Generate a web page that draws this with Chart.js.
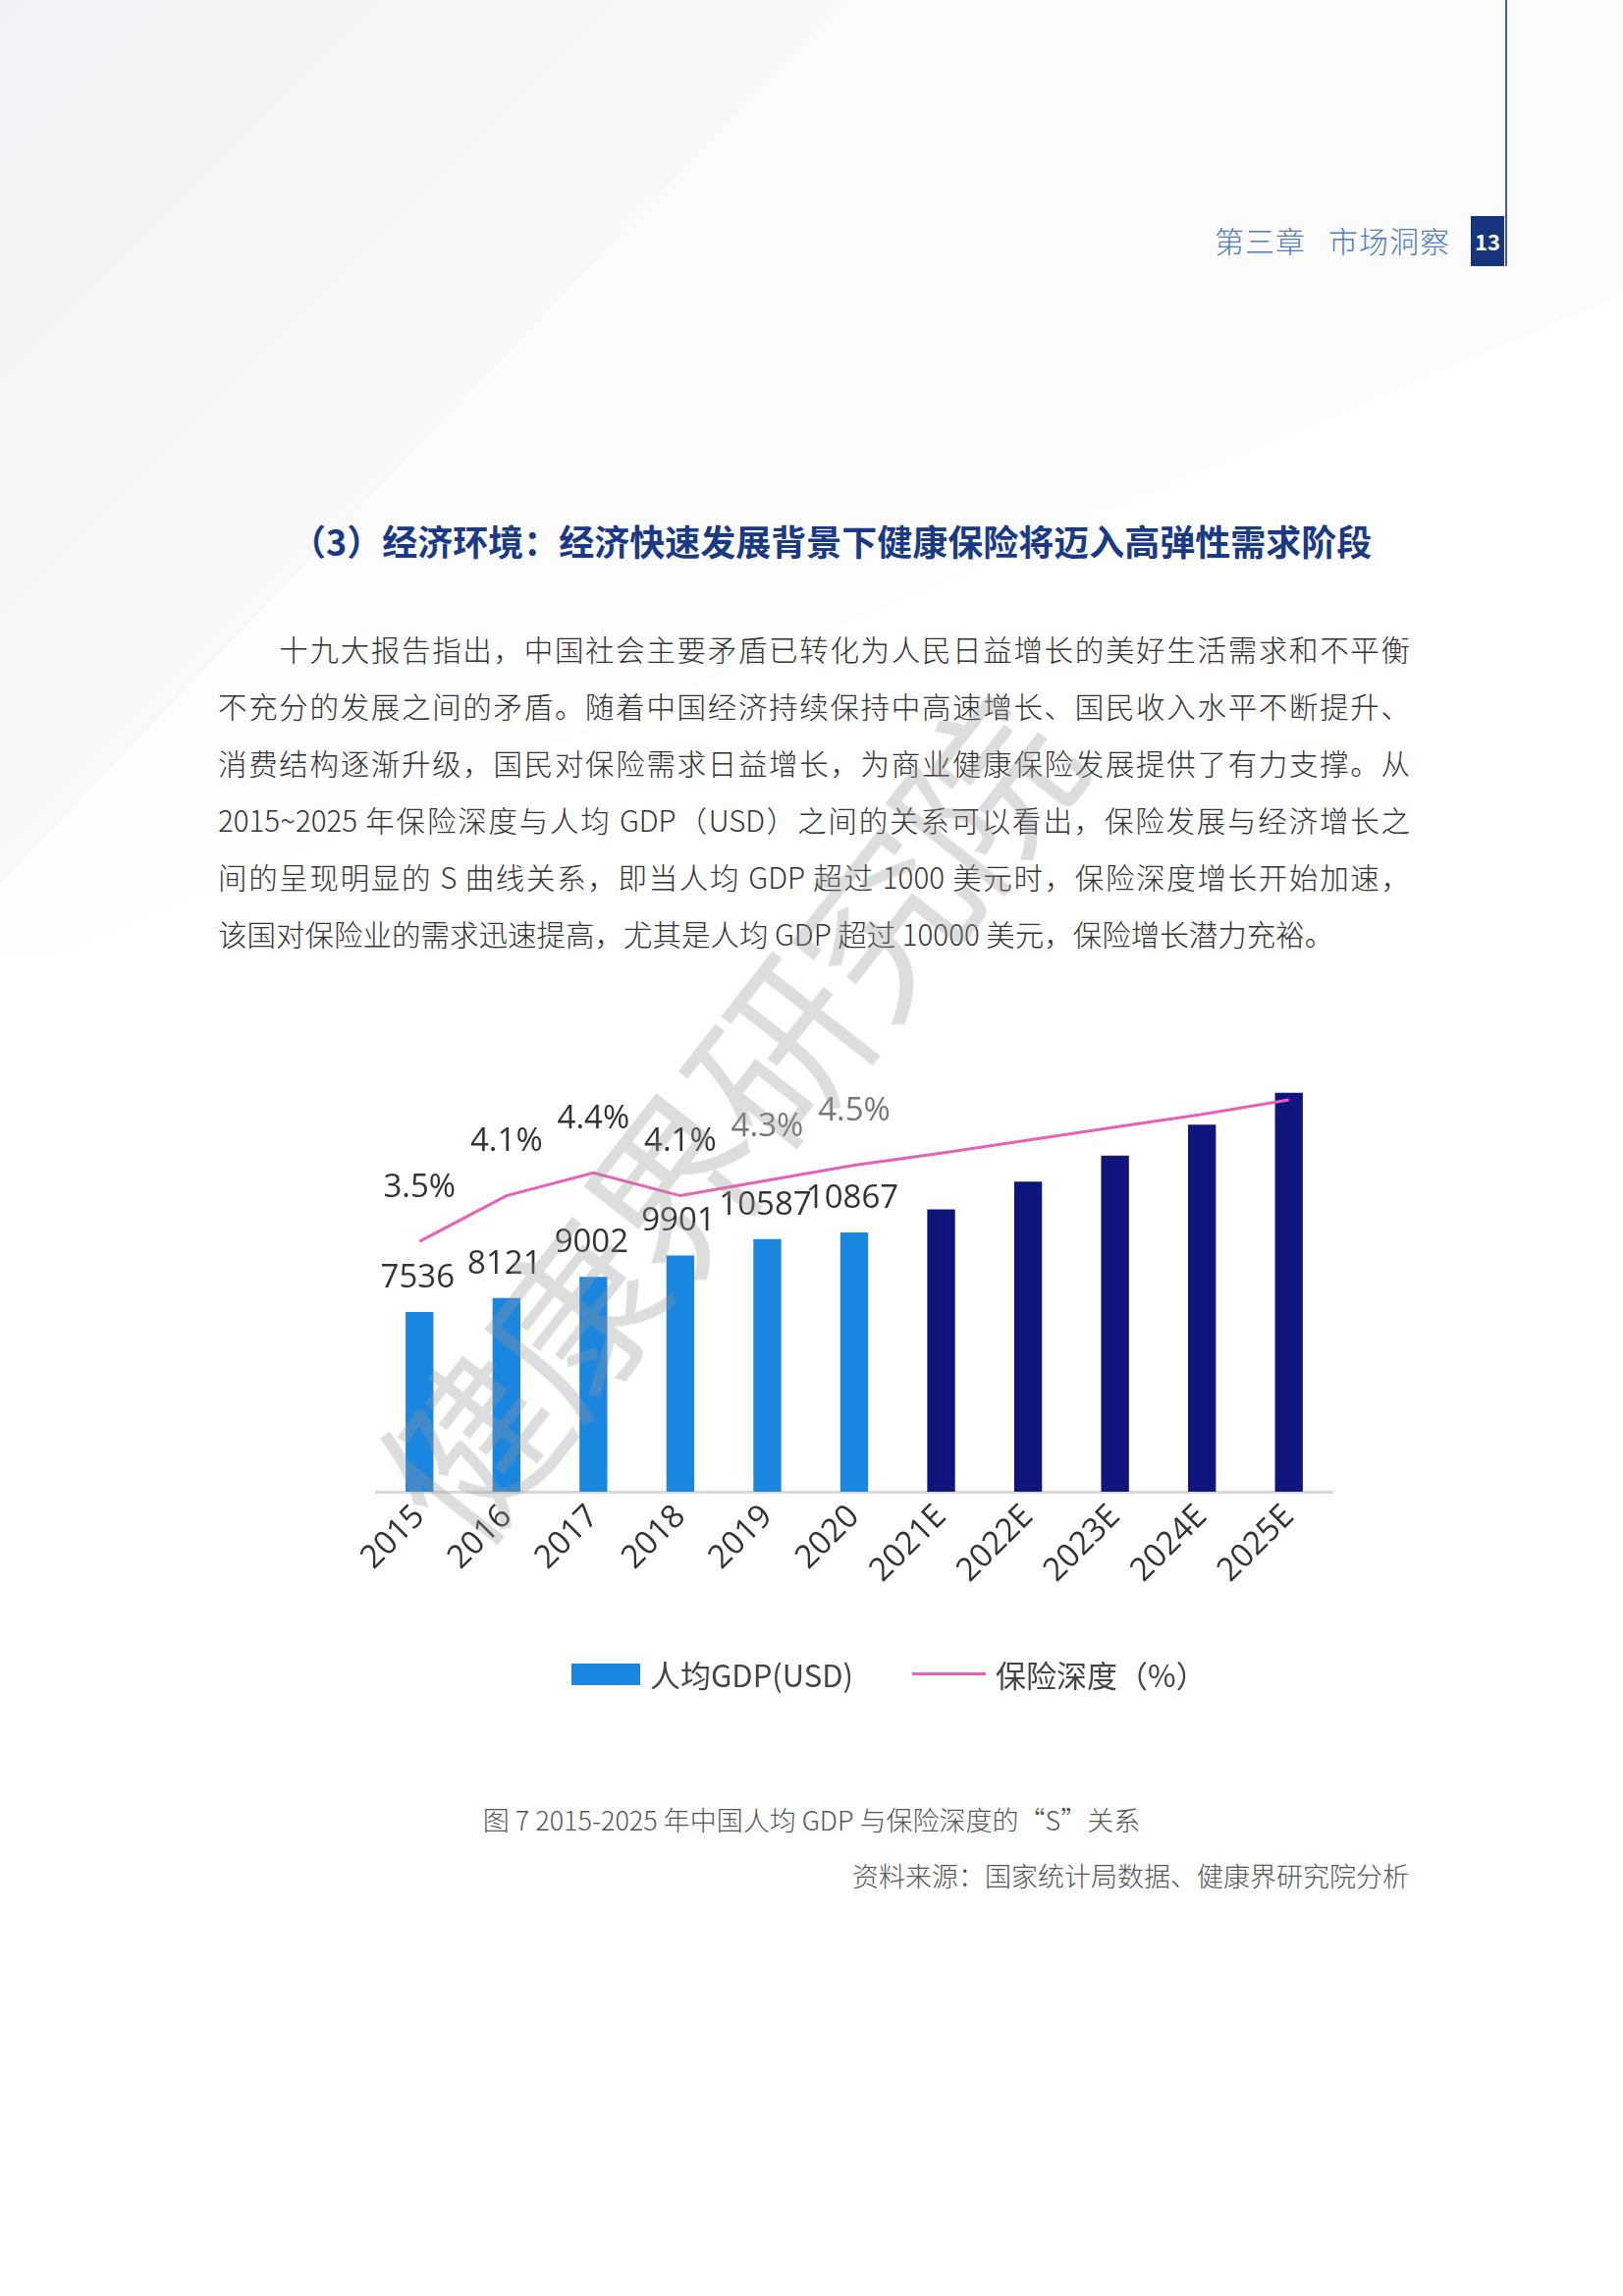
<!DOCTYPE html>
<html><head><meta charset="utf-8">
<script src="https://cdn.jsdelivr.net/npm/chart.js@4/dist/chart.umd.min.js"></script>
<style>
html,body{margin:0;padding:0;background:#fff;}
body{width:1653px;height:2338px;position:relative;overflow:hidden;font-family:"Noto Sans CJK SC","Noto Sans",sans-serif;}
.bgshape{position:absolute;left:0;top:0;width:1653px;height:1100px;background:linear-gradient(135deg,#f1f2f5 0%,#fafafb 40%,#fff 60%);clip-path:polygon(0 0,860px 0,0 900px);}
.bgshape2{position:absolute;left:0;top:0;width:1653px;height:1100px;background:linear-gradient(180deg,#f7f7f9,#fff);clip-path:polygon(0 0,0 1000px,1653px 300px,1653px 0);opacity:.6}
#vline{position:absolute;left:1533px;top:0;width:2px;height:271px;background:#3a5fa8;}
#hdr{position:absolute;right:176px;top:222px;font-size:30px;color:#4f7cc0;font-weight:300;letter-spacing:1px;white-space:pre;}
#pg{position:absolute;left:1498px;top:220px;width:34px;height:51px;background:#17357f;color:#fff;font-size:22px;font-weight:700;text-align:center;line-height:51px;}
#title{position:absolute;left:296px;top:524px;font-size:36px;font-weight:700;color:#1b3a86;white-space:nowrap;}
#para{position:absolute;left:222px;top:631px;width:1214px;font-size:29.5px;line-height:58px;color:#333;font-weight:300;text-align:justify;}
#para div{white-space:nowrap;text-align-last:justify;}
#cv{position:absolute;left:355px;top:1040px;width:1030px;height:710px;}
#legend{position:absolute;top:1682px;left:582px;font-size:31px;color:#444;display:flex;align-items:center;white-space:nowrap;}
.sw{display:inline-block;width:70px;height:22px;background:#1a86e0;margin-right:10px;}
.ln{display:inline-block;width:75px;height:3px;background:#e860b8;margin:0 10px 0 60px;}
#cap{position:absolute;left:0;width:1653px;top:1833px;text-align:center;font-size:27px;color:#555;font-weight:300;}
#src{position:absolute;right:218px;top:1890px;font-size:27px;color:#555;font-weight:300;}
#wm{position:absolute;left:260px;top:820px;font-size:175px;color:rgba(150,150,150,0.32);transform-origin:0 0;transform:translate(60px,640px) rotate(-52deg);white-space:nowrap;pointer-events:none;letter-spacing:-5px;}
</style></head><body>
<div class="bgshape2"></div><div class="bgshape"></div>
<div id="vline"></div>
<div id="hdr">第三章   市场洞察</div>
<div id="pg">13</div>
<div id="title">（3）经济环境：经济快速发展背景下健康保险将迈入高弹性需求阶段</div>
<div id="para">
<div>　　十九大报告指出，中国社会主要矛盾已转化为人民日益增长的美好生活需求和不平衡</div>
<div>不充分的发展之间的矛盾。随着中国经济持续保持中高速增长、国民收入水平不断提升、</div>
<div>消费结构逐渐升级，国民对保险需求日益增长，为商业健康保险发展提供了有力支撑。从</div>
<div>2015~2025 年保险深度与人均 GDP（USD）之间的关系可以看出，保险发展与经济增长之</div>
<div>间的呈现明显的 S 曲线关系，即当人均 GDP 超过 1000 美元时，保险深度增长开始加速，</div>
<div style="text-align-last:left">该国对保险业的需求迅速提高，尤其是人均 GDP 超过 10000 美元，保险增长潜力充裕。</div>
</div>
<canvas id="cv" width="1030" height="710"></canvas>
<div id="legend"><span class="sw"></span>人均GDP(USD)<span class="ln"></span>保险深度（%）</div>
<div id="wm">健康界研究院</div>
<div id="cap">图 7 2015-2025 年中国人均 GDP 与保险深度的“S”关系</div>
<div id="src">资料来源：国家统计局数据、健康界研究院分析</div>
<script>
const categories=["2015","2016","2017","2018","2019","2020","2021E","2022E","2023E","2024E","2025E"];
const gdp=[7536,8121,9002,9901,10587,10867,11830,13000,14090,15380,16720];
const depth=[3.5,4.1,4.4,4.1,4.3,4.5,4.66,4.83,5.0,5.17,5.36];
const gdpLabels=["7536","8121","9002","9901","10587","10867","","","","",""];
const depthLabels=["3.5%","4.1%","4.4%","4.1%","4.3%","4.5%","","","","",""];
const barColors=categories.map(c=>c.endsWith("E")?"#10157e":"#1a86e0");

const labelPlugin={id:"lbl",afterDatasetsDraw(chart){
  const ctx=chart.ctx;ctx.save();
  ctx.font='33px "Open Sans","Noto Sans",sans-serif';ctx.textAlign="center";ctx.textBaseline="bottom";
  const bm=chart.getDatasetMeta(1), lm=chart.getDatasetMeta(0);
  bm.data.forEach((b,i)=>{if(!gdpLabels[i])return;ctx.fillStyle="#333";ctx.fillText(gdpLabels[i],b.x-2,b.y-18);});
  lm.data.forEach((p,i)=>{if(!depthLabels[i])return;ctx.fillStyle=i>=4?"#777":"#333";ctx.fillText(depthLabels[i],p.x,p.y-38);});
  ctx.restore();}};

new Chart(document.getElementById("cv"),{
  data:{labels:categories,datasets:[
    {type:"line",label:"保险深度（%）",data:depth,yAxisID:"y1",borderColor:"#e860b8",borderWidth:3,pointRadius:0,tension:0,order:0},
    {type:"bar",label:"人均GDP(USD)",data:gdp,yAxisID:"y",backgroundColor:barColors,barPercentage:0.32,categoryPercentage:1,order:1}
  ]},
  options:{responsive:false,animation:false,
    layout:{padding:{left:28,right:28,top:66,bottom:0}},
    plugins:{legend:{display:false},tooltip:{enabled:false}},
    scales:{
      x:{grid:{display:false,drawTicks:false},border:{color:"#d9d9d9",width:3},
         ticks:{color:"#333",font:{size:33,family:'"Open Sans","Noto Sans",sans-serif'},maxRotation:45,minRotation:45,padding:6},
         afterFit(s){s.height=231;}},
      y:{display:false,min:0,max:17000},
      y1:{display:false,min:0.21,max:5.54}
    }},
  plugins:[labelPlugin]
});
</script>
</body></html>
